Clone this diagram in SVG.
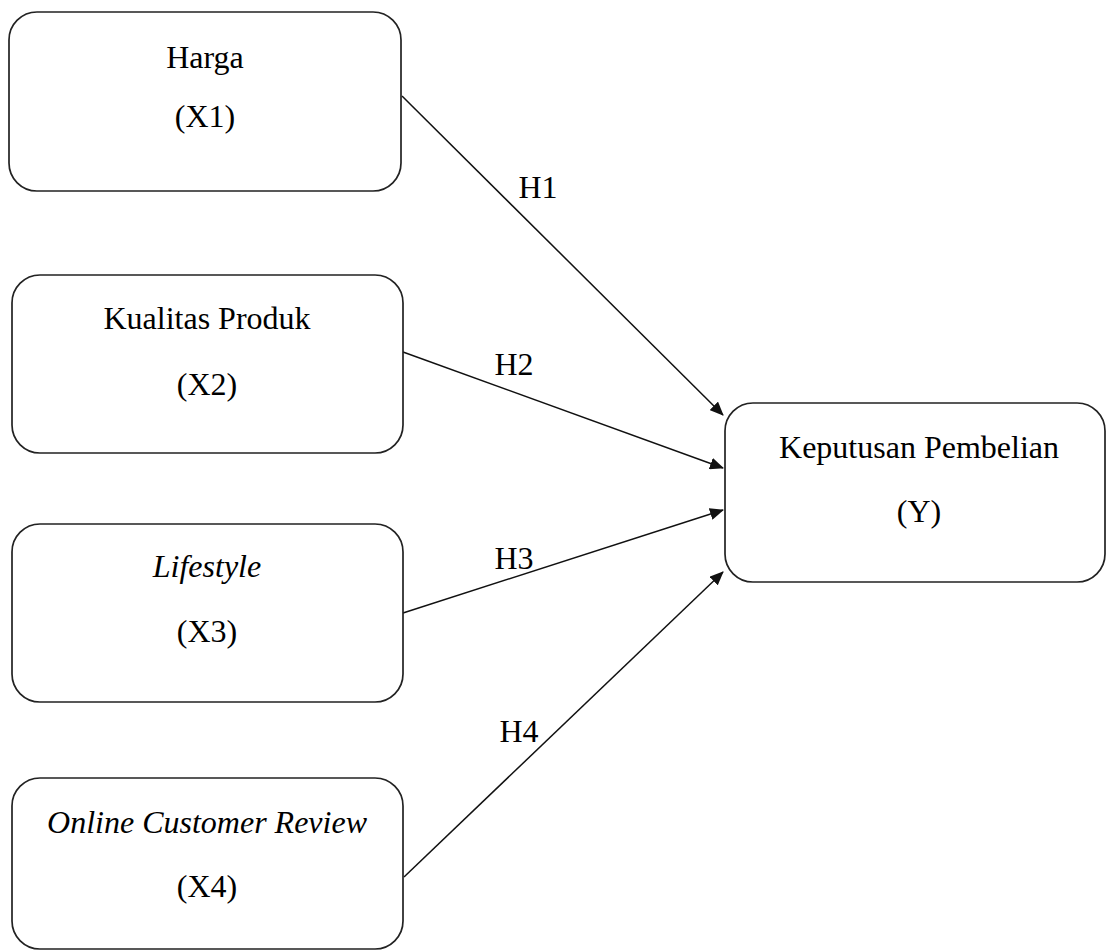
<svg xmlns="http://www.w3.org/2000/svg" width="1107" height="952" viewBox="0 0 1107 952">
<style>
.box{fill:#fff;stroke:#222;stroke-width:1.7}
.t{font-family:"Liberation Serif","Times New Roman",serif;font-size:32px;fill:#000;text-anchor:middle}
.i{font-style:italic}
.c{stroke:#111;stroke-width:1.5;fill:none;marker-end:url(#ah)}
</style>
<defs>
<marker id="ah" markerUnits="userSpaceOnUse" markerWidth="14" markerHeight="12" refX="13" refY="6" orient="auto">
<path d="M0,0 L14,6 L0,12 Z" fill="#111"/>
</marker>
</defs>
<rect width="1107" height="952" fill="#fff"/>
<g id="connectors">
<line class="c" x1="402" y1="96" x2="723" y2="415"/>
<line class="c" x1="403" y1="352" x2="723" y2="468"/>
<line class="c" x1="403" y1="613" x2="723" y2="510"/>
<line class="c" x1="404" y1="877" x2="723" y2="572"/>
<text class="t" x="538" y="198">H1</text>
<text class="t" x="514" y="375">H2</text>
<text class="t" x="514" y="569">H3</text>
<text class="t" x="519" y="742">H4</text>
</g>
<g id="x1">
<rect class="box" x="9" y="12" width="392" height="179" rx="28"/>
<text class="t" x="205" y="68">Harga</text>
<text class="t" x="205" y="127">(X1)</text>
</g>
<g id="x2">
<rect class="box" x="12" y="275" width="391" height="178" rx="28"/>
<text class="t" x="207" y="329">Kualitas Produk</text>
<text class="t" x="207" y="395">(X2)</text>
</g>
<g id="x3">
<rect class="box" x="12" y="524" width="391" height="178" rx="28"/>
<text class="t i" x="207" y="577">Lifestyle</text>
<text class="t" x="207" y="642">(X3)</text>
</g>
<g id="x4">
<rect class="box" x="12" y="778" width="391" height="171" rx="28"/>
<text class="t i" x="207" y="833">Online Customer Review</text>
<text class="t" x="207" y="897">(X4)</text>
</g>
<g id="y">
<rect class="box" x="725" y="403" width="380" height="179" rx="28"/>
<text class="t" x="919" y="458">Keputusan Pembelian</text>
<text class="t" x="919" y="522">(Y)</text>
</g>
</svg>
